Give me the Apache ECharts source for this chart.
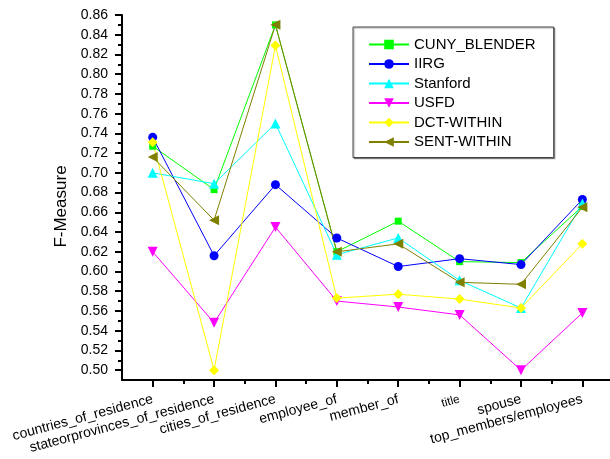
<!DOCTYPE html>
<html>
<head>
<meta charset="utf-8">
<script src="https://cdn.jsdelivr.net/npm/echarts@6/dist/echarts.min.js"></script>
<style>
  html, body { margin: 0; padding: 0; background: #fff; }
  #chart { width: 610px; height: 459px; }
</style>
</head>
<body>
<div id="chart"></div>
<script>
// Relation types on the x axis
const categories = [
  'countries_of_residence',
  'stateorprovinces_of_residence',
  'cities_of_residence',
  'employee_of',
  'member_of',
  'title',
  'spouse',
  'top_members/employees'
];

// F-Measure per system
const cunyBlender = [0.727, 0.683, 0.850, 0.620, 0.651, 0.610, 0.609, 0.666];
const iirg        = [0.736, 0.616, 0.688, 0.634, 0.605, 0.613, 0.607, 0.673];
const stanford    = [0.700, 0.689, 0.750, 0.617, 0.634, 0.591, 0.563, 0.669];
const usfd        = [0.620, 0.548, 0.645, 0.570, 0.564, 0.556, 0.500, 0.558];
const dctWithin   = [0.731, 0.500, 0.829, 0.573, 0.577, 0.572, 0.563, 0.628];
const sentWithin  = [0.716, 0.652, 0.850, 0.620, 0.628, 0.589, 0.587, 0.665];

// Labelled y ticks
const yTicks = [0.50, 0.52, 0.54, 0.56, 0.58, 0.60, 0.62, 0.64, 0.66, 0.68,
                0.70, 0.72, 0.74, 0.76, 0.78, 0.80, 0.82, 0.84, 0.86];

const FONT = '"Liberation Sans", Arial, sans-serif';

// Category positions along the x axis (1..n) and minor ticks between them
const xMajor = categories.map((c, i) => i + 1);
const xMinor = categories.slice(1).map((c, i) => i + 1.5);
const yMinor = yTicks.slice(1).map((v, i) => Math.round((yTicks[i] + 0.01) * 100) / 100);

function toPoints(values) {
  return values.map((v, i) => [i + 1, v]);
}

const seriesDefs = [
  { name: 'CUNY_BLENDER', data: cunyBlender, color: '#00ff00', symbol: 'rect', size: 7, rotate: 0 },
  { name: 'IIRG', data: iirg, color: '#0000ff', symbol: 'circle', size: 9, rotate: 0 },
  { name: 'Stanford', data: stanford, color: '#00ffff', symbol: 'triangle', size: 10, rotate: 0 },
  { name: 'USFD', data: usfd, color: '#ff00ff', symbol: 'triangle', size: 10, rotate: 180 },
  { name: 'DCT-WITHIN', data: dctWithin, color: '#ffff00', symbol: 'diamond', size: 10, rotate: 0 },
  { name: 'SENT-WITHIN', data: sentWithin, color: '#808000', symbol: 'triangle', size: 10, rotate: 90 }
];

const chart = echarts.init(document.getElementById('chart'), null, { renderer: 'canvas' });

chart.setOption({
  animation: false,
  backgroundColor: '#ffffff',
  textStyle: { fontFamily: FONT },
  grid: { left: 122, right: 0, top: 15, bottom: 79 },
  legend: {
    orient: 'vertical',
    left: 353,
    top: 27,
    padding: [10, 18, 8, 15],
    itemWidth: 40,
    itemHeight: 12,
    itemGap: 4.5,
    backgroundColor: '#ffffff',
    borderColor: '#444444',
    borderWidth: 1,
    shadowColor: 'rgba(0,0,0,0.35)',
    shadowBlur: 1,
    shadowOffsetX: 1,
    shadowOffsetY: 1,
    textStyle: { fontFamily: FONT, fontSize: 15, lineHeight: 14, color: '#000' },
    data: seriesDefs.map(s => s.name)
  },
  xAxis: [
    {
      type: 'value',
      min: 0.5,
      max: 8.45,
      position: 'bottom',
      splitLine: { show: false },
      axisLine: { show: true, onZero: false, lineStyle: { color: '#000', width: 2 } },
      axisTick: { show: true, customValues: xMajor, inside: false, length: 7, lineStyle: { color: '#000', width: 2 } },
      axisLabel: {
        customValues: xMajor,
        rotate: 15,
        margin: 19,
        fontFamily: FONT,
        fontSize: 14,
        color: '#000',
        formatter: function (v) {
          const name = categories[Math.round(v) - 1];
          return name === 'title' ? '{s|' + name + '}' : name;
        },
        rich: { s: { fontFamily: FONT, fontSize: 12, color: '#000' } }
      }
    },
    {
      type: 'value',
      min: 0.5,
      max: 8.45,
      position: 'bottom',
      offset: 0,
      splitLine: { show: false },
      axisLine: { show: false },
      axisLabel: { show: false },
      axisTick: { show: true, customValues: xMinor, length: 4, lineStyle: { color: '#000', width: 2 } }
    }
  ],
  yAxis: [
    {
      type: 'value',
      min: 0.49,
      max: 0.86,
      position: 'left',
      name: 'F-Measure',
      nameLocation: 'middle',
      nameGap: 45,
      nameTextStyle: { fontFamily: FONT, fontSize: 17, color: '#000', padding: [0, 18, 0, 0] },
      splitLine: { show: false },
      axisLine: { show: true, onZero: false, lineStyle: { color: '#000', width: 2 } },
      axisTick: { show: true, customValues: yTicks, length: 7, lineStyle: { color: '#000', width: 2 } },
      axisLabel: {
        customValues: yTicks,
        margin: 14,
        fontFamily: FONT,
        fontSize: 14,
        color: '#000',
        formatter: v => v.toFixed(2)
      }
    },
    {
      type: 'value',
      min: 0.49,
      max: 0.86,
      position: 'left',
      offset: 0,
      splitLine: { show: false },
      axisLine: { show: false },
      axisLabel: { show: false },
      axisTick: { show: true, customValues: yMinor, length: 4, lineStyle: { color: '#000', width: 2 } }
    }
  ],
  series: seriesDefs.map(s => ({
    name: s.name,
    type: 'line',
    xAxisIndex: 0,
    yAxisIndex: 0,
    data: toPoints(s.data),
    symbol: s.symbol,
    symbolSize: s.size,
    symbolRotate: s.rotate,
    showSymbol: true,
    color: s.color,
    itemStyle: { color: s.color },
    lineStyle: { color: s.color, width: 1 }
  }))
});
</script>
</body>
</html>
